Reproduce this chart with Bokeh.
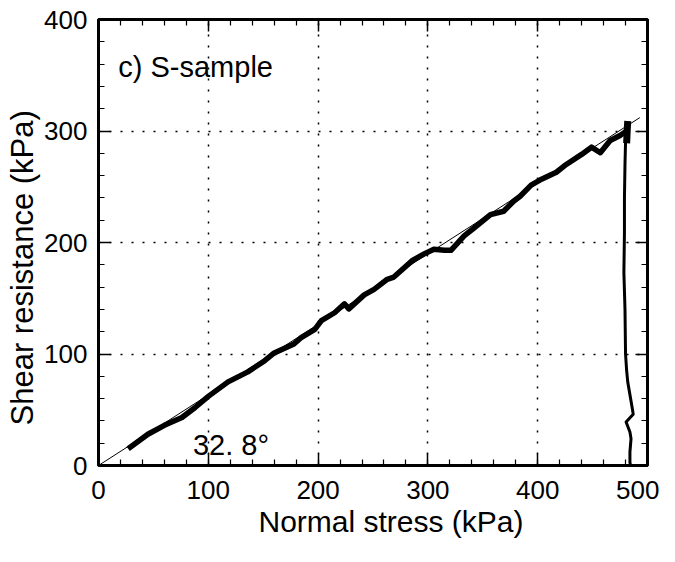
from bokeh.plotting import figure
from bokeh.models import (Range1d, LinearAxis, SingleIntervalTicker, Label, Title)
from bokeh.embed import file_html
from bokeh.resources import INLINE

# ---- data ----
rise_x = [27, 45, 60, 76, 88, 100, 118, 136, 150, 160, 178, 185, 197, 203, 215, 224, 228,
          242, 251, 263, 269, 286, 297, 305.5, 315, 321, 333, 342, 357, 369, 378, 384, 394,
          402, 417, 426, 440, 449, 457, 466, 475, 481, 482]
rise_y = [15, 28, 36, 43, 52, 62, 75, 84, 93, 101, 109, 115, 122, 130, 137, 145, 140.5,
          153, 158, 167, 169, 184, 190, 194, 193, 193, 206, 213, 225, 228, 237, 241.5, 251.5,
          256, 263, 270, 279, 285.5, 280.5, 291.5, 296, 300, 307]
drop_x = [482, 481, 480, 479.5, 479, 479, 478.5, 479.5, 480, 481, 482, 486, 487, 480.5,
          484, 485, 484, 484, 484.5]
drop_y = [307, 300, 290, 270, 240, 209, 173, 140, 100, 85, 75, 52, 46, 39,
          30, 24, 12, 3, 0]
drop_top_x = [482, 481.5, 481]
drop_top_y = [309, 300, 289]
fit_x = [0, 493]
fit_y = [0, 312]
x_ticks_interval = 100
y_ticks_interval = 100
x_title = "Normal stress (kPa)"
y_title = "Shear resistance (kPa)"
title_text = "c) S-sample"
angle_text = "32. 8\u00b0"

FONT = "Liberation Sans"

p = figure(width=659, height=546, output_backend="svg", toolbar_location=None,
           x_range=Range1d(0, 500), y_range=Range1d(0, 400),
           min_border_left=95, min_border_right=12, min_border_top=19, min_border_bottom=81,
           background_fill_color="white", border_fill_color="white")

xt = SingleIntervalTicker(interval=x_ticks_interval, num_minor_ticks=5)
yt = SingleIntervalTicker(interval=y_ticks_interval, num_minor_ticks=5)

def style_axis(ax, ticker, show_labels=True):
    ax.ticker = ticker
    ax.major_tick_in = 12
    ax.major_tick_out = 0
    ax.minor_tick_in = 6
    ax.minor_tick_out = 0
    ax.major_tick_line_width = 1.5
    ax.minor_tick_line_width = 1.2
    ax.major_tick_line_color = "black"
    ax.minor_tick_line_color = "black"
    ax.axis_line_color = "black"
    ax.axis_line_width = 2.5
    ax.major_label_text_font = FONT
    ax.major_label_text_color = "black"
    if not show_labels:
        ax.major_label_text_font_size = "0px"
        ax.major_label_standoff = 0

style_axis(p.xaxis[0], xt)
style_axis(p.yaxis[0], yt)
p.xaxis.major_label_text_font_size = "26px"
p.yaxis.major_label_text_font_size = "26px"
p.xaxis.major_label_standoff = 15
p.yaxis.major_label_standoff = 11

top_ax = LinearAxis()
style_axis(top_ax, SingleIntervalTicker(interval=x_ticks_interval, num_minor_ticks=5), False)
p.add_layout(top_ax, "above")
right_ax = LinearAxis()
style_axis(right_ax, SingleIntervalTicker(interval=y_ticks_interval, num_minor_ticks=5), False)
p.add_layout(right_ax, "right")

# axis titles (offset along the axis as in the reference)
p.add_layout(Title(text=x_title, align="left", offset=160, standoff=2,
                   vertical_align="bottom", text_font=FONT, text_font_size="30px",
                   text_font_style="normal", text_color="black"), "below")
p.add_layout(Title(text=y_title, align="left", offset=40, standoff=4,
                   vertical_align="bottom", text_font=FONT, text_font_size="31px",
                   text_font_style="normal", text_color="black"), "left")

for g, t in ((p.xgrid, xt), (p.ygrid, yt)):
    g.ticker = t
    g.grid_line_color = "black"
    g.grid_line_width = 1.5
    g.grid_line_dash = "2 9"

p.outline_line_color = "black"
p.outline_line_width = 3

p.line(fit_x, fit_y, line_color="black", line_width=1)
p.line(rise_x, rise_y, line_color="black", line_width=5.5, line_join="round")
p.line(drop_x, drop_y, line_color="black", line_width=3, line_join="round")
p.line(drop_top_x, drop_top_y, line_color="black", line_width=7)

p.add_layout(Label(x=18, y=357, text=title_text, text_font=FONT, text_font_size="29px",
                   text_color="black", text_baseline="alphabetic"))
p.add_layout(Label(x=86, y=18, text=angle_text, text_font=FONT, text_font_size="29px",
                   text_color="black", text_baseline="alphabetic"))

open("out.html", "w").write(file_html(p, INLINE))
